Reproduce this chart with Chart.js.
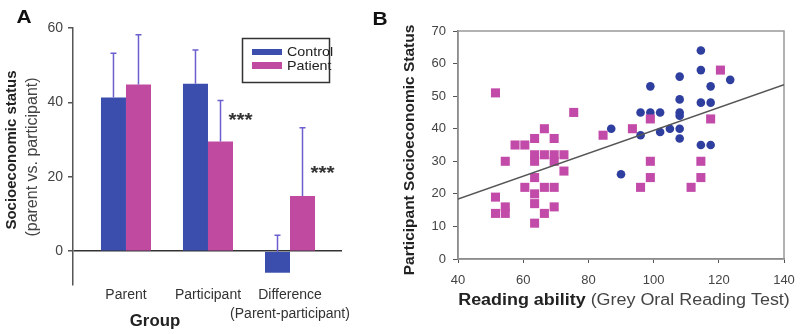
<!DOCTYPE html>
<html>
<head>
<meta charset="utf-8">
<script src="https://cdn.jsdelivr.net/npm/chart.js@4.4.1/dist/chart.umd.min.js"></script>
<style>
  html, body { margin: 0; padding: 0; background: #fff; }
  #wrap { position: relative; width: 800px; height: 334px; }
  #chartA { position: absolute; left: 0; top: 0; }
  #chartB { position: absolute; left: 370px; top: 0; }
</style>
</head>
<body>
<div id="wrap">
  <canvas id="chartA" width="370" height="334"></canvas>
  <canvas id="chartB" width="430" height="334"></canvas>
</div>
<script>
Chart.defaults.font.family = "'Liberation Sans', Arial, sans-serif";
Chart.defaults.color = "#3c3c3c";

const BLUE = "#3b4eae";
const PINK = "#c04a9f";
const DOT_BLUE = "#2f3f9f";
const DOT_PINK = "#c24aa8";
const ERR = "#6b5fd0";
const AXIS = "#555";
const FONT = "'Liberation Sans', Arial, sans-serif";

// panel A - group means
const groups = ["Parent", "Participant", ["Difference", "(Parent-participant)"]];
const groupPos = [1, 2, 3];
const controlMean = [41.3, 45.0, -5.8];
const patientMean = [44.8, 29.5, 14.8];
const controlErrTop = [53.2, 54.1, 4.3];
const patientErrTop = [58.2, 40.5, 33.2];
const patientSig = ["", "***", "***"];
const sigLevel = [0, 35.7, 21.5];
const yTicksA = [0, 20, 40, 60];

// panel B - reading vs SES
const controlReading = [87, 90, 96, 96, 99, 99, 102, 102, 105, 108, 108, 108, 108, 108, 108,
    114.5, 114.5, 114.5, 114.5, 117.5, 117.5, 117.5, 123.5];
const controlSES = [40, 26, 45, 38, 53, 45, 45, 39, 40, 56, 49, 45, 44, 40, 37,
    64, 58, 48, 35, 53, 48, 35, 55];
const patientReading = [51.5, 54.5, 51.5, 51.5, 54.5, 54.5, 57.5, 60.5, 60.5,
    63.5, 63.5, 63.5, 63.5, 63.5, 63.5, 63.5, 66.5, 66.5, 66.5, 66.5,
    69.5, 69.5, 69.5, 69.5, 69.5, 72.5, 72.5, 75.5, 84.5, 93.5, 96, 99, 99, 99,
    111.5, 114.5, 114.5, 117.5, 120.5];
const patientSES = [51, 30, 19, 14, 16, 14, 35, 35, 22,
    37, 32, 30, 25, 20, 17, 11, 40, 32, 22, 14,
    37, 32, 30, 22, 16, 32, 27, 45, 38, 40, 22, 43, 30, 25,
    22, 30, 25, 43, 58];
const fitReading = [40, 140];
const fitSES = [18.4, 53.5];

function drawText(ctx, str, x, y, font, color, align = "center", sx = 1) {
    ctx.save();
    ctx.font = font;
    ctx.fillStyle = color;
    ctx.textAlign = align;
    ctx.textBaseline = "middle";
    ctx.translate(x, y);
    ctx.scale(sx, 1);
    ctx.fillText(str, 0, 0);
    ctx.restore();
}

function drawVertical(ctx, str, x, y, font, color) {
    ctx.save();
    ctx.font = font;
    ctx.fillStyle = color;
    ctx.textAlign = "center";
    ctx.textBaseline = "middle";
    ctx.translate(x, y);
    ctx.rotate(-Math.PI / 2);
    ctx.fillText(str, 0, 0);
    ctx.restore();
}

const errorBars = {
    id: "errorBars",
    afterDatasetsDraw(chart) {
        const { ctx } = chart;
        const y = chart.scales.y;
        [controlErrTop, patientErrTop].forEach((tops, d) => {
            chart.getDatasetMeta(d).data.forEach((bar, i) => {
                const from = Math.min(bar.y, bar.base);
                const to = y.getPixelForValue(tops[i]);
                ctx.save();
                ctx.strokeStyle = ERR;
                ctx.lineWidth = 1.5;
                ctx.beginPath();
                ctx.moveTo(bar.x, from);
                ctx.lineTo(bar.x, to);
                ctx.moveTo(bar.x - 3, to);
                ctx.lineTo(bar.x + 3, to);
                ctx.stroke();
                ctx.restore();
            });
        });

        // significance stars next to the patient bars
        chart.getDatasetMeta(1).data.forEach((bar, i) => {
            if (!patientSig[i]) return;
            drawText(ctx, patientSig[i], bar.x + 20, y.getPixelForValue(sigLevel[i]) + 3,
                "bold 18px " + FONT, "#333", "center", 1.15);
        });
    },
};

const panelAText = {
    id: "panelAText",
    afterDraw(chart) {
        const { ctx } = chart;
        drawText(ctx, "A", 24, 18, "bold 19px " + FONT, "#111", "center", 1.1);
        drawVertical(ctx, "Socioeconomic status", 12, 150, "bold 15px " + FONT, "#222");
        drawVertical(ctx, "(parent vs. participant)", 33, 157, "16px " + FONT, "#444");
        drawText(ctx, "Group", 155, 322, "bold 16px " + FONT, "#222", "center", 1.05);

        // legend
        ctx.save();
        ctx.strokeStyle = "#333";
        ctx.lineWidth = 1.5;
        ctx.strokeRect(242.5, 38.5, 87, 44);
        ctx.fillStyle = BLUE;
        ctx.fillRect(252, 49, 30, 6);
        ctx.fillStyle = PINK;
        ctx.fillRect(252, 62, 30, 7);
        ctx.restore();
        drawText(ctx, "Control", 287, 52, "13px " + FONT, "#222", "left", 1.1);
        drawText(ctx, "Patient", 287, 66, "13px " + FONT, "#222", "left", 1.1);
    },
};

new Chart(document.getElementById("chartA"), {
    type: "bar",
    data: {
        datasets: [
            {
                label: "Control",
                data: groupPos.map((x, i) => ({ x, y: controlMean[i] })),
                backgroundColor: BLUE,
                categoryPercentage: 0.61,
                barPercentage: 1,
            },
            {
                label: "Patient",
                data: groupPos.map((x, i) => ({ x, y: patientMean[i] })),
                backgroundColor: PINK,
                categoryPercentage: 0.61,
                barPercentage: 1,
            },
        ],
    },
    options: {
        responsive: false,
        animation: false,
        layout: { padding: { top: 28, right: 28, left: 0, bottom: 0 } },
        plugins: {
            legend: { display: false },
            tooltip: { enabled: false },
        },
        scales: {
            x: {
                type: "linear",
                offset: false,
                min: 0.354,
                max: 3.634,
                afterBuildTicks: (s) => {
                    s.ticks = groupPos.map((v) => ({ value: v }));
                },
                afterFit: (s) => {
                    s.height = 49;
                },
                ticks: {
                    callback: (v) => groups[groupPos.indexOf(v)],
                    font: { size: 14, lineHeight: 1.4 },
                    color: "#333",
                    padding: 0,
                    maxRotation: 0,
                    autoSkip: false,
                },
                grid: { display: false, drawTicks: false },
                border: { display: false },
            },
            y: {
                min: -9.1,
                max: 60,
                afterBuildTicks: (s) => {
                    s.ticks = yTicksA.map((v) => ({ value: v }));
                },
                afterFit: (s) => {
                    s.width = 73;
                },
                ticks: {
                    font: { size: 14 },
                    color: "#444",
                    padding: 5,
                },
                grid: {
                    color: (c) => (c.tick && c.tick.value === 0 ? "#333" : "transparent"),
                    tickColor: AXIS,
                    tickLength: 5,
                    lineWidth: 1.5,
                },
                border: { color: AXIS, width: 1.5 },
            },
        },
    },
    plugins: [errorBars, panelAText],
});

const frameB = {
    id: "frameB",
    beforeDatasetsDraw(chart) {
        const { ctx, chartArea: a } = chart;
        ctx.save();
        ctx.strokeStyle = "#999";
        ctx.lineWidth = 1.5;
        ctx.strokeRect(a.left, a.top, a.right - a.left, a.bottom - a.top);
        ctx.restore();
    },
};

const panelBText = {
    id: "panelBText",
    afterDraw(chart) {
        const { ctx } = chart;
        drawText(ctx, "B", 10, 20, "bold 19px " + FONT, "#111", "center", 1.1);
        drawVertical(ctx, "Participant Socioeconomic Status", 40, 150, "bold 15.5px " + FONT, "#222");

        const sx = 1.12;
        const boldPart = "Reading ability";
        const plainPart = " (Grey Oral Reading Test)";
        ctx.save();
        ctx.font = "bold 16px " + FONT;
        const w1 = ctx.measureText(boldPart).width * sx;
        ctx.font = "16px " + FONT;
        const w2 = ctx.measureText(plainPart).width * sx;
        ctx.restore();
        const start = 254 - (w1 + w2) / 2;
        drawText(ctx, boldPart, start, 301, "bold 16px " + FONT, "#222", "left", sx);
        drawText(ctx, plainPart, start + w1, 301, "16px " + FONT, "#444", "left", sx);
    },
};

new Chart(document.getElementById("chartB"), {
    type: "scatter",
    data: {
        datasets: [
            {
                type: "line",
                label: "Fit",
                data: fitReading.map((x, i) => ({ x, y: fitSES[i] })),
                borderColor: "#555",
                borderWidth: 1.5,
                pointRadius: 0,
                showLine: true,
                order: 0,
            },
            {
                label: "Patient",
                data: patientReading.map((x, i) => ({ x, y: patientSES[i] })),
                pointStyle: "rect",
                pointRadius: 6.4,
                backgroundColor: DOT_PINK,
                borderWidth: 0,
                order: 1,
            },
            {
                label: "Control",
                data: controlReading.map((x, i) => ({ x, y: controlSES[i] })),
                pointStyle: "circle",
                pointRadius: 4.3,
                backgroundColor: DOT_BLUE,
                borderWidth: 0,
                order: 2,
            },
        ],
    },
    options: {
        responsive: false,
        animation: false,
        layout: { padding: { top: 31, right: 16, left: 0, bottom: 0 } },
        plugins: {
            legend: { display: false },
            tooltip: { enabled: false },
        },
        scales: {
            x: {
                type: "linear",
                min: 40,
                max: 140,
                afterFit: (s) => {
                    s.height = 75;
                    s.paddingLeft = 0;
                    s.paddingRight = 0;
                },
                ticks: {
                    stepSize: 20,
                    font: { size: 13, lineHeight: 1.7 },
                    color: "#444",
                    padding: 6,
                },
                grid: {
                    drawOnChartArea: false,
                    tickColor: AXIS,
                    tickLength: 4,
                },
                border: { color: "#666", width: 1.5 },
            },
            y: {
                min: 0,
                max: 70,
                afterFit: (s) => {
                    s.width = 88;
                    s.paddingTop = 0;
                    s.paddingBottom = 0;
                },
                ticks: {
                    stepSize: 10,
                    font: { size: 13 },
                    color: "#444",
                    padding: 7,
                },
                grid: {
                    drawOnChartArea: false,
                    tickColor: AXIS,
                    tickLength: 5,
                },
                border: { color: "#666", width: 1.5 },
            },
        },
    },
    plugins: [frameB, panelBText],
});
</script>
</body>
</html>
